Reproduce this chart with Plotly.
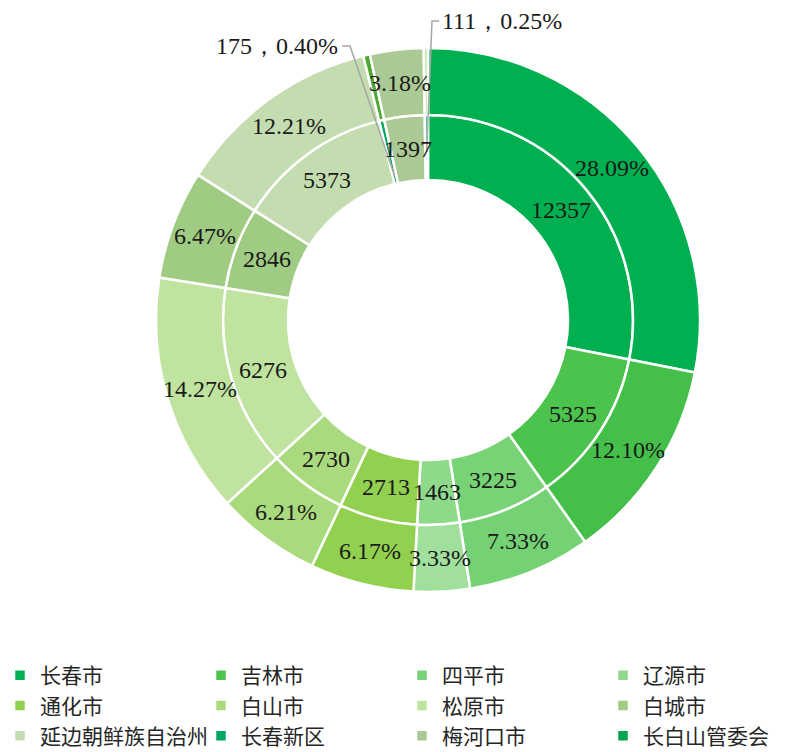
import math
import plotly.graph_objects as go

labels = ['长春市', '吉林市', '四平市', '辽源市', '通化市', '白山市', '松原市', '白城市',
          '延边朝鲜族自治州', '长春新区', '梅河口市', '长白山管委会']
values = [12357, 5325, 3225, 1463, 2713, 2730, 6276, 2846, 5373, 175, 1397, 111]
percents = ['28.09%', '12.10%', '7.33%', '3.33%', '6.17%', '6.21%', '14.27%', '6.47%',
            '12.21%', '0.40%', '3.18%', '0.25%']

inner_colors = ['#00B050', '#4CC34C', '#77D375', '#8FD98B', '#92D050', '#A9DB7E',
                '#C0E3A0', '#9FCB83', '#C4DDB0', '#00A862', '#ABC994', '#00A550']
outer_colors = ['#00B050', '#44C04A', '#75D274', '#A0E09C', '#92D050', '#A9DB7E',
                '#C0E3A0', '#9FCB83', '#C4DDB0', '#4EA72E', '#ABC994', '#C8E6A8']

small_idx = [9, 11]

W, H = 804, 752
CX, CY = 428, 320
R_OUT, R_MID, R_IN = 272, 205, 140


def dom(r):
    return dict(x=[(CX - r) / W, (CX + r) / W], y=[1 - (CY + r) / H, 1 - (CY - r) / H])


def pt(theta_deg, r):
    t = math.radians(theta_deg)
    px = CX + r * math.sin(t)
    py = CY - r * math.cos(t)
    return px / W, 1 - py / H


total = sum(values)
mids = []
acc = 0
for v in values:
    mids.append((acc + v / 2) / total * 360)
    acc += v

fig = go.Figure()
fig.add_trace(go.Pie(
    labels=labels, values=values, sort=False, direction='clockwise', rotation=0,
    hole=R_IN / R_MID, domain=dom(R_MID), textinfo='none', showlegend=True,
    marker=dict(colors=inner_colors, line=dict(color='white', width=2.5)),
))
fig.add_trace(go.Pie(
    labels=labels, values=values, sort=False, direction='clockwise', rotation=0,
    hole=R_MID / R_OUT, domain=dom(R_OUT), textinfo='none', showlegend=False,
    marker=dict(colors=outer_colors, line=dict(color='white', width=2.5)),
))

num_font = dict(family='Liberation Serif, DejaVu Serif, serif', size=24, color='#1a1a1a')
annotations = []
for i, (v, p, m) in enumerate(zip(values, percents, mids)):
    if i in small_idx:
        continue
    x, y = pt(m, (R_IN + R_MID) / 2)
    annotations.append(dict(x=x, y=y, xref='paper', yref='paper', text=str(v),
                            xanchor='center', yanchor='middle',
                            showarrow=False, font=num_font))
    x, y = pt(m, (R_MID + R_OUT) / 2)
    annotations.append(dict(x=x, y=y, xref='paper', yref='paper', text=p,
                            xanchor='center', yanchor='middle',
                            showarrow=False, font=num_font))

shapes = []
# leader label for 长春新区
i = 9
annotations.append(dict(x=340 / W, y=1 - 46 / H, xref='paper', yref='paper',
                        xanchor='right', yanchor='middle',
                        text=f'{values[i]}，{percents[i]}', showarrow=False, font=num_font))
ex, ey = pt(mids[i], 148)
shapes.append(dict(type='path', xref='paper', yref='paper',
                   path=f'M{342 / W},{1 - 46 / H} L{350 / W},{1 - 46 / H} L{ex},{ey}',
                   line=dict(color='#A6A6A6', width=1.5)))
# leader label for 长白山管委会
i = 11
annotations.append(dict(x=440 / W, y=1 - 21 / H, xref='paper', yref='paper',
                        xanchor='left', yanchor='middle',
                        text=f'{values[i]}，{percents[i]}', showarrow=False, font=num_font))
ex, ey = pt(mids[i], 168)
shapes.append(dict(type='path', xref='paper', yref='paper',
                   path=f'M{439 / W},{1 - 21 / H} L{432 / W},{1 - 21 / H} L{ex},{ey}',
                   line=dict(color='#A6A6A6', width=1.5)))

fig.update_layout(
    width=W, height=H, margin=dict(l=0, r=0, t=0, b=0, autoexpand=False),
    paper_bgcolor='white', plot_bgcolor='white',
    annotations=annotations, shapes=shapes,
    legend=dict(orientation='h', x=0, y=1 - 655 / H, yanchor='top', xanchor='left',
                entrywidth=156, entrywidthmode='pixels', traceorder='normal',
                font=dict(family='Noto Sans CJK SC', size=21, color='#262626')),
)

fig.write_html('out.html')
